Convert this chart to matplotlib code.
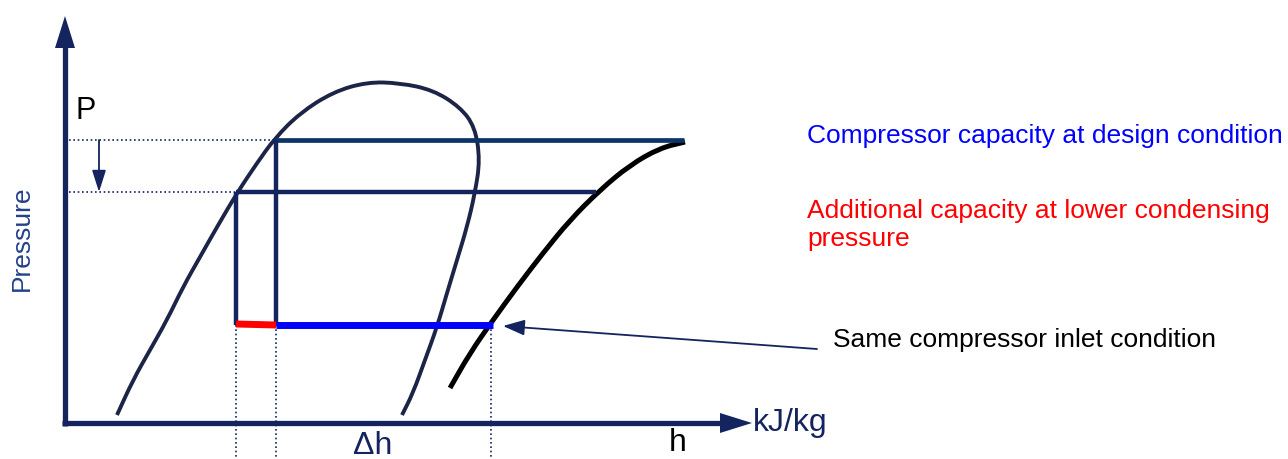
import numpy as np
import matplotlib
matplotlib.use('Agg')
import matplotlib.pyplot as plt
from matplotlib.path import Path
from matplotlib.patches import PathPatch

# Schematic p-h diagram, units are picture pixels (y grows downward)
dome_h = [117, 133, 150, 167, 183, 200, 217, 237, 257, 275, 300, 333, 367, 400,
          433, 460, 475, 480, 475, 467, 457, 447, 437, 425, 413, 402]
dome_p = [415, 380, 350, 320, 287, 257, 227, 193, 163, 138, 113, 92, 82, 83,
          90, 107, 127, 160, 193, 227, 260, 293, 327, 360, 393, 415]

isen_h = [450, 470, 493, 517, 543, 570, 600, 630, 660, 685]
isen_p = [388, 353, 320, 287, 253, 220, 190, 165, 148, 142]

p_design = 140
p_lower = 192
p_evap = 325
h_liq_design = 276
h_liq_lower = 236
h_suction = 493
h_disch_design = 684
h_disch_lower = 596

navy = '#14245e'
navy2 = '#0b3467'


def smooth_path(xs, ys):
    # quadratic bezier through midpoints, read points act as control points
    pts = list(zip(xs, ys))
    verts = [pts[0]]
    codes = [Path.MOVETO]
    mid = lambda a, b: ((a[0] + b[0]) / 2, (a[1] + b[1]) / 2)
    verts.append(mid(pts[0], pts[1]))
    codes.append(Path.LINETO)
    for i in range(1, len(pts) - 1):
        verts += [pts[i], mid(pts[i], pts[i + 1])]
        codes += [Path.CURVE3, Path.CURVE3]
    verts.append(pts[-1])
    codes.append(Path.LINETO)
    return Path(verts, codes)


fig = plt.figure(figsize=(12.88, 4.59), dpi=100)
ax = fig.add_axes([0, 0, 1, 1])
ax.set_xlim(0, 1288)
ax.set_ylim(459, 0)
ax.axis('off')
plt.rcParams['font.family'] = ['Liberation Sans', 'DejaVu Sans']

# axes with arrowheads
ox, oy = 65, 423
ax.plot([ox, ox], [oy + 3, 45], color=navy, lw=3.8, solid_capstyle='butt')
ax.fill([55, 75, 65], [48, 48, 16], color=navy, lw=0)
ax.plot([ox - 3, 722], [oy, oy], color=navy, lw=3.8, solid_capstyle='butt')
ax.fill([720, 720, 752], [413, 433, 423], color=navy, lw=0)

# saturation dome and isentrope
ax.add_patch(PathPatch(smooth_path(dome_h, dome_p), fill=False, edgecolor='#1c2547',
                       lw=2.8, capstyle='butt'))
ax.add_patch(PathPatch(smooth_path(isen_h, isen_p), fill=False, edgecolor='black',
                       lw=3.6, capstyle='butt'))

# dotted guides
dot = dict(color=navy, lw=1.2, linestyle=(0, (1, 1.6)))
ax.plot([69, h_liq_design], [p_design, p_design], **dot)
ax.plot([69, h_liq_lower], [p_lower, p_lower], **dot)
for h in [h_liq_lower, h_liq_design, h_suction - 2]:
    ax.plot([h, h], [p_evap, 459], **dot)

# cycle lines
ax.plot([h_liq_design - 2, h_disch_design], [p_design, p_design], color=navy2, lw=3.4, solid_capstyle='butt')
ax.plot([h_liq_lower, h_disch_lower], [p_lower, p_lower], color=navy, lw=3.2, solid_capstyle='butt')
ax.plot([h_liq_design, h_liq_design], [p_design, p_evap], color=navy, lw=3.2, solid_capstyle='butt')
ax.plot([h_liq_lower, h_liq_lower], [p_lower, p_evap], color=navy, lw=3.2, solid_capstyle='butt')
ax.plot([h_liq_lower, h_liq_design], [p_evap - 1, p_evap], color='#ff0000', lw=5, solid_capstyle='butt')
ax.plot([h_liq_design, h_suction], [p_evap, p_evap], color='#0000ff', lw=5, solid_capstyle='butt')

# pressure drop arrow
ax.annotate('', xy=(99, p_lower), xytext=(99, p_design),
            arrowprops=dict(arrowstyle='-|>,head_length=1.1,head_width=0.35',
                            color=navy, lw=1.3, mutation_scale=12, shrinkA=0, shrinkB=0))

# inlet condition arrow
ax.annotate('', xy=(503, 326), xytext=(817, 349),
            arrowprops=dict(arrowstyle='-|>,head_length=1.1,head_width=0.4',
                            color=navy, lw=1.3, mutation_scale=12, shrinkA=0, shrinkB=0))

# labels
ax.text(22, 238, 'Pressure', rotation=90, ha='center', va='center', fontsize=19, color='#24408a')
ax.text(76, 111, 'P', ha='left', va='center', fontsize=22, color='black')
ax.text(753, 423, 'kJ/kg', ha='left', va='center', fontsize=23, color=navy)
ax.text(373, 446, '\u0394h', ha='center', va='center', fontsize=23, color=navy)
ax.text(678, 443, 'h', ha='center', va='center', fontsize=23, color='black')

ax.text(807, 136, 'Compressor capacity at design condition', ha='left', va='center',
        fontsize=19, color='#0000ff')
ax.text(807, 225, 'Additional capacity at lower condensing\npressure', ha='left', va='center',
        fontsize=19, color='#ff0000', linespacing=1.2)
ax.text(833, 340, 'Same compressor inlet condition', ha='left', va='center',
        fontsize=19, color='black')

fig.savefig('out.png', dpi=100, facecolor='white')
